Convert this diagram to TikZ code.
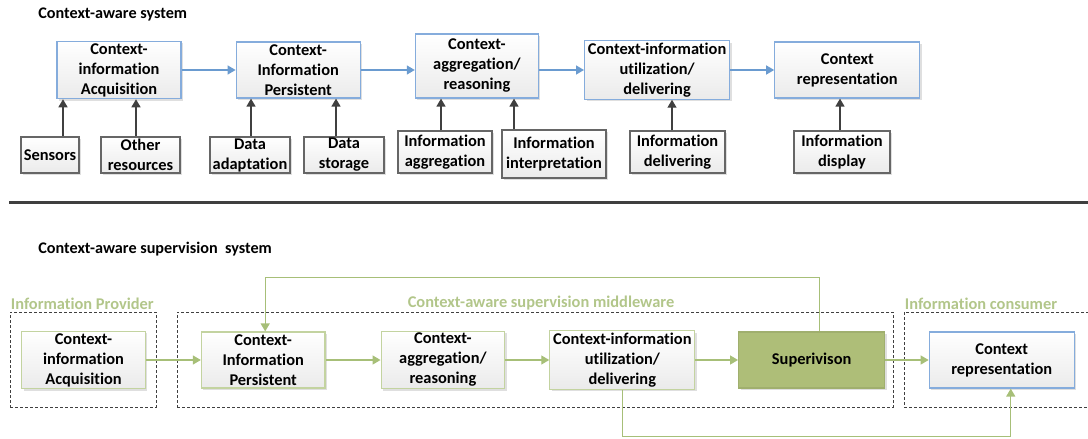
\documentclass[tikz,border=0pt]{standalone}
\usepackage{fontspec}
\setmainfont{Carlito}[Ligatures=NoCommon]
\usetikzlibrary{positioning, calc, arrows.meta, shadows}
\tikzset{>={Triangle[length=4pt, width=4.5pt]}}
\definecolor{boxblue}{HTML}{85ACDC}
\definecolor{arrowblue}{HTML}{6A9BD0}
\definecolor{boxgreen}{HTML}{C3D3A0}
\definecolor{arrowgreen}{HTML}{A7BF78}
\definecolor{labelgreen}{HTML}{B2C68A}
\definecolor{supgreen}{HTML}{AEBE78}
\definecolor{sepgray}{HTML}{3F3F3F}

\begin{document}
\begin{tikzpicture}[x=0.5pt, y=0.5pt,
  every node/.style={font=\bfseries\fontsize{8.2}{10}\selectfont},
  stage/.style={draw=boxblue, line width=0.6pt, top color=white, bottom color=black!8, align=center,
    minimum width=62pt, minimum height=28pt, inner sep=1pt,
    drop shadow={shadow xshift=1pt, shadow yshift=-1pt, fill=black!25}},
  gstage/.style={stage, draw=boxgreen},
  part/.style={draw=black!60, line width=0.7pt, top color=white, bottom color=black!8, align=center,
    minimum height=18pt, inner sep=0.5pt,
    drop shadow={shadow xshift=1pt, shadow yshift=-1pt, fill=black!25}},
  group/.style={draw=black!75, dash pattern=on 1.5pt off 1pt, line width=0.5pt, minimum height=47.5pt},
  glabel/.style={text=labelgreen, inner sep=0.5pt},
  title/.style={font=\bfseries\fontsize{8.1}{10}\selectfont, anchor=west, inner sep=0pt},
  bline/.style={->, arrowblue, line width=0.7pt},
  dline/.style={->, black!75, line width=0.7pt},
  gline/.style={->, arrowgreen, line width=0.7pt}]
  \useasboundingbox (0,0) rectangle (1088,-439);

  % context-aware system
  \node[title] (t1) at (38,-14) {Context-aware system};
  \node[stage] (a1) at (119,-70) {Context-\\information\\Acquisition};
  \node[stage, right=27pt of a1] (a2) {Context-\\Information\\Persistent};
  \node[stage, right=27pt of a2, yshift=2pt, minimum width=61.5pt, minimum height=32pt] (a3) {Context-\\aggregation/\\reasoning};
  \node[stage, right=22.5pt of a3, yshift=-2pt, minimum width=72.5pt] (a4) {Context-information\\utilization/\\delivering};
  \node[stage, right=22pt of a4, minimum width=72.5pt] (a5) {Context\\representation};

  \draw[bline] (a1) -- (a2);
  \draw[bline] (a2) -- (a2 -| a3.west);
  \draw[bline] (a3.east |- a4) -- (a4);
  \draw[bline] (a4) -- (a5);

  \node[part, minimum width=29pt] (sens) at (50,-155) {Sensors};
  \node[part, minimum width=39.5pt] (other) at (140.5,-155) {Other\\resources};
  \node[part, minimum width=40pt] (adapt) at (250,-155) {Data\\adaptation};
  \node[part, minimum width=40pt] (store) at (344,-155) {Data\\storage};
  \node[part, minimum width=47pt, minimum height=21pt] (iagg) at (445,-152) {Information\\aggregation};
  \node[part, minimum width=52pt, minimum height=24pt] (iint) at (554,-154) {Information\\interpretation};
  \node[part, minimum width=47.5pt, minimum height=21pt] (ideliv) at (677.5,-152) {Information\\delivering};
  \node[part, minimum width=48pt, minimum height=21pt] (idisp) at (842,-152) {Information\\display};

  \draw[dline] ([xshift=6.5pt]sens.north) -- ([xshift=6.5pt]sens.north |- a1.south);
  \draw[dline] ([xshift=-2.25pt]other.north) -- ([xshift=-2.25pt]other.north |- a1.south);
  \draw[dline] ([xshift=0.5pt]adapt.north) -- ([xshift=0.5pt]adapt.north |- a2.south);
  \draw[dline] ([xshift=-4pt]store.north) -- ([xshift=-4pt]store.north |- a2.south);
  \draw[dline] ([xshift=-2pt]iagg.north) -- ([xshift=-2pt]iagg.north |- a3.south);
  \draw[dline] ([xshift=-20pt]iint.north) -- ([xshift=-20pt]iint.north |- a3.south);
  \draw[dline] ([xshift=-2.75pt]ideliv.north) -- ([xshift=-2.75pt]ideliv.north |- a4.south);
  \draw[dline] ([xshift=-1pt]idisp.north) -- ([xshift=-1pt]idisp.north |- a5.south);

  \draw[line width=1.5pt, sepgray] (9,-202.7) -- (1088,-202.7);

  % context-aware supervision system
  \node[title] (t2) at (38,-249) {Context-aware supervision~ system};
  \node[group, minimum width=73pt, label={[glabel, anchor=south west]north west:Information Provider}] (prov) at (83,-359.5) {};
  \node[group, minimum width=358pt, label={[glabel, xshift=3pt]above:Context-aware supervision middleware}] (mid) at (535,-359.5) {};
  \node[group, minimum width=100pt, label={[glabel, anchor=south west]north west:Information consumer}] (cons) at (1004,-359.5) {};

  \node[gstage, minimum width=61.75pt] (b1) at (83.5,-360) {Context-\\information\\Acquisition};
  \node[gstage, right=27.5pt of b1, minimum width=61.75pt] (b2) {Context-\\Information\\Persistent};
  \node[gstage, right=27.5pt of b2, minimum width=61.75pt] (b3) {Context-\\aggregation/\\reasoning};
  \node[gstage, right=22pt of b3, minimum width=72.5pt] (b4) {Context-information\\utilization/\\delivering};
  \node[stage, right=21.3pt of b4, draw=supgreen!92!black, top color=supgreen, bottom color=supgreen, minimum width=73pt] (sup) {Superivison};
  \node[stage, right=21.7pt of sup, minimum width=72.5pt] (cr) {Context\\representation};
  \coordinate (loop) at (0,-436.5);

  \draw[gline] (b1) -- (b2);
  \draw[gline] (b2) -- (b3);
  \draw[gline] (b3) -- (b4);
  \draw[gline] (b4) -- (sup);
  \draw[gline] (sup) -- (cr);
  \draw[gline] ([xshift=4pt]sup.north) -- ++(0,27pt) -| ([xshift=1pt]b2.north);
  \draw[gline] (b4.south) -- (b4.south |- loop) -| ([xshift=4.5pt]cr.south);
\end{tikzpicture}
\end{document}
